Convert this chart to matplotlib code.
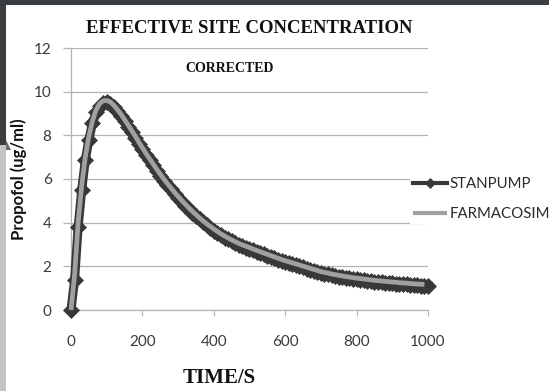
import numpy as np
import matplotlib
matplotlib.use("Agg")
import matplotlib.pyplot as plt
from matplotlib.patches import Rectangle, Polygon

## Effect-site concentration, sampled every 10 s ##
stanpump_time = np.arange(0, 1001, 10)
stanpump_conc = [
    0.00, 1.37, 3.80, 5.50, 6.85, 7.80, 8.55, 9.05, 9.35, 9.50,
    9.52, 9.45, 9.30, 9.10, 8.90, 8.65, 8.40, 8.15, 7.90, 7.62,
    7.36, 7.10, 6.86, 6.62, 6.38, 6.15, 5.93, 5.72, 5.52, 5.32,
    5.13, 4.95, 4.78, 4.61, 4.45, 4.30, 4.15, 4.01, 3.88, 3.76,
    3.64, 3.53, 3.42, 3.32, 3.23, 3.15, 3.07, 2.99, 2.92, 2.86,
    2.80, 2.73, 2.67, 2.61, 2.55, 2.49, 2.43, 2.37, 2.31, 2.25,
    2.20, 2.15, 2.10, 2.05, 2.00, 1.95, 1.90, 1.85, 1.80, 1.75,
    1.70, 1.66, 1.63, 1.59, 1.56, 1.53, 1.50, 1.47, 1.45, 1.42,
    1.40, 1.38, 1.36, 1.34, 1.32, 1.30, 1.28, 1.27, 1.25, 1.24,
    1.22, 1.21, 1.19, 1.18, 1.17, 1.15, 1.14, 1.13, 1.12, 1.11,
    1.10,
]

farmacosim_time = np.arange(0, 991, 10)
farmacosim_conc = [
    0.00, 1.60, 4.00, 5.70, 7.00, 7.95, 8.65, 9.15, 9.45, 9.58,
    9.60, 9.53, 9.38, 9.18, 8.97, 8.72, 8.47, 8.22, 7.97, 7.69,
    7.43, 7.17, 6.93, 6.69, 6.45, 6.22, 6.00, 5.79, 5.59, 5.39,
    5.20, 5.02, 4.85, 4.68, 4.52, 4.37, 4.22, 4.08, 3.95, 3.83,
    3.71, 3.60, 3.49, 3.39, 3.30, 3.21, 3.13, 3.05, 2.98, 2.92,
    2.86, 2.79, 2.73, 2.67, 2.61, 2.55, 2.49, 2.43, 2.37, 2.31,
    2.26, 2.21, 2.16, 2.11, 2.06, 2.01, 1.96, 1.91, 1.86, 1.81,
    1.76, 1.72, 1.69, 1.65, 1.62, 1.59, 1.56, 1.53, 1.51, 1.48,
    1.46, 1.44, 1.42, 1.40, 1.38, 1.36, 1.34, 1.33, 1.31, 1.30,
    1.28, 1.27, 1.25, 1.24, 1.23, 1.21, 1.20, 1.19, 1.18, 1.17,
]

x_ticks = [0, 200, 400, 600, 800, 1000]
y_ticks = [0, 2, 4, 6, 8, 10, 12]

SANS = "Lato"
SERIF = "Liberation Serif"
GRID = "#b4b4b4"

W, H = 549, 391
fig = plt.figure(figsize=(W / 100, H / 100), dpi=100)
fig.patch.set_facecolor("white")

# slide frame: dark band on top, dark/light strip on the left
px = lambda x, y, w, h, c: Rectangle((x / W, 1 - (y + h) / H), w / W, h / H,
                                     transform=fig.transFigure, color=c, lw=0)
fig.add_artist(px(0, 0, W, 5, "#3b3e40"))
fig.add_artist(px(0, 0, 6, 145, "#3b3e40"))
fig.add_artist(px(0, 145, 6, H - 145, "#c3c3c3"))
fig.add_artist(Polygon([(6 / W, 1 - 140 / H), (11 / W, 1 - 150 / H), (6 / W, 1 - 150 / H)],
                       transform=fig.transFigure, color="#6a6d6f", lw=0))

ax = fig.add_axes([71 / W, 1 - 310 / H, 357 / W, 262 / H])

ax.plot(stanpump_time, stanpump_conc, color="#383838", lw=6.5, marker="D", ms=8.5,
        mec="#383838", mew=0.5, label="STANPUMP", clip_on=False, zorder=3)
ax.plot(farmacosim_time, farmacosim_conc, color="#a0a0a0", lw=3.4,
        solid_capstyle="butt", label="FARMACOSIM", clip_on=False, zorder=4)

ax.set_xlim(0, 1000)
ax.set_ylim(0, 12)
ax.set_xticks(x_ticks)
ax.set_yticks(y_ticks)
ax.yaxis.grid(True, color=GRID, lw=0.9)
ax.set_axisbelow(True)
for side in ["top", "right"]:
    ax.spines[side].set_visible(False)
for side in ["left", "bottom"]:
    ax.spines[side].set_color(GRID)
    ax.spines[side].set_linewidth(0.9)
ax.tick_params(axis="y", direction="out", length=6, width=0.9, color=GRID,
               labelcolor="#3a3a3a", labelsize=11, pad=8)
ax.tick_params(axis="x", direction="out", length=4, width=0.9, color=GRID,
               labelcolor="#3a3a3a", labelsize=11, pad=14)
for lab in ax.get_xticklabels() + ax.get_yticklabels():
    lab.set_family(SANS)

ax.set_title("EFFECTIVE SITE CONCENTRATION", family=SERIF, fontweight="bold",
             fontsize=13.5, pad=11, color="#111111")
ax.text(445, 11.05, "CORRECTED", family=SERIF, fontweight="bold", fontsize=10,
        ha="center", va="center", color="#111111")

ax.set_xlabel("TIME/S", family=SERIF, fontweight="bold", fontsize=15,
              color="#111111", va="center")
ax.xaxis.set_label_coords((219 - 71) / 357, (310 - 378) / 262)
ax.set_ylabel("Propofol (ug/ml)", family=SANS, fontweight="bold", fontsize=12,
              color="#111111", va="center")
ax.yaxis.set_label_coords((19 - 71) / 357, 0.5)

# legend sits over the right end of the gridlines, on a white box
leg = ax.legend(loc="center left", bbox_to_anchor=((410 - 71) / 357, (310 - 199) / 262),
                frameon=True, facecolor="white", edgecolor="none", framealpha=1,
                fancybox=False, borderpad=0.2, borderaxespad=0, handlelength=2.3,
                handletextpad=0.15, labelspacing=1.1, numpoints=1, markerscale=0.6,
                prop={"family": SANS, "size": 10.8})
for line in leg.get_lines():
    line.set_linewidth(3)
for txt in leg.get_texts():
    txt.set_color("#2a2a2a")

fig.savefig("out.png", dpi=100)
